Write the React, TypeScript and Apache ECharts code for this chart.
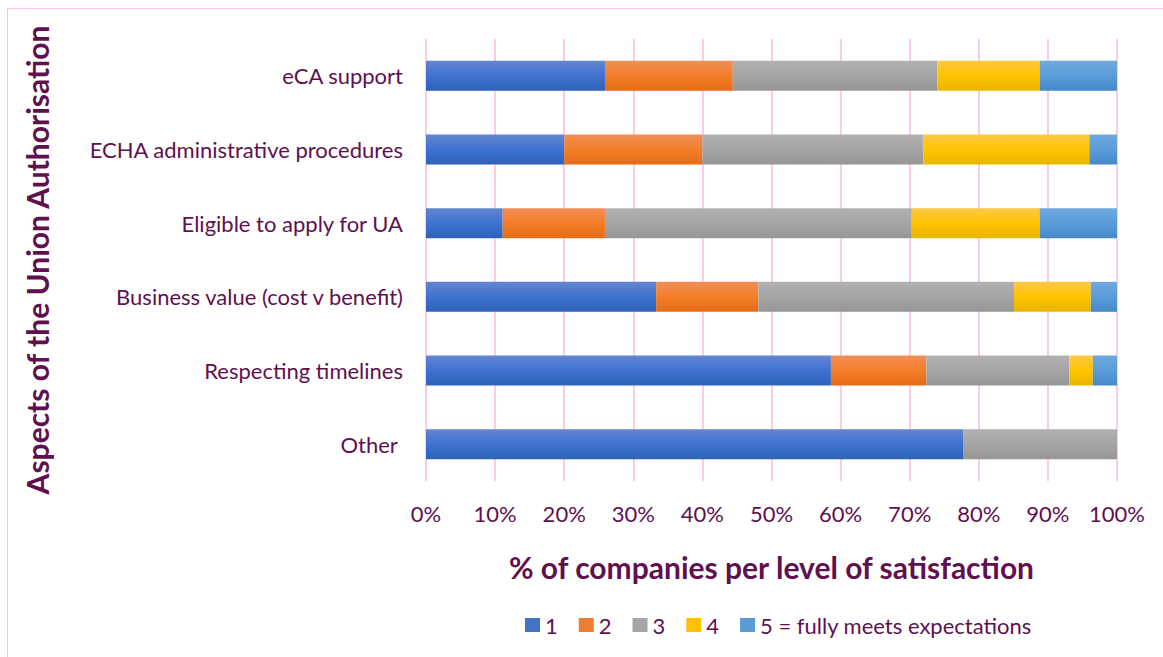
import React, { useEffect, useRef } from "react";
import * as echarts from "echarts";

const categories = [
  "eCA support",
  "ECHA administrative procedures",
  "Eligible to apply for UA",
  "Business value (cost v benefit)",
  "Respecting timelines",
  "Other ",
];
const seriesNames = ["1", "2", "3", "4", "5 = fully meets expectations"];
const level1 = [25.9, 20, 11.1, 33.3, 58.6, 77.8];
const level2 = [18.5, 20, 14.8, 14.8, 13.8, 0];
const level3 = [29.6, 32, 44.4, 37.0, 20.7, 22.2];
const level4 = [14.8, 24, 18.5, 11.1, 3.4, 0];
const level5 = [11.2, 4, 11.2, 3.8, 3.5, 0];
const xTicks = [0, 10, 20, 30, 40, 50, 60, 70, 80, 90, 100];

const TEXT = "#60104F";
const FONT = "Lato";

const grad = (a: string, b: string, c: string) =>
  new echarts.graphic.LinearGradient(0, 0, 0, 1, [
    { offset: 0, color: a },
    { offset: 0.5, color: b },
    { offset: 1, color: c },
  ]);

export default function App() {
  const ref = useRef<HTMLDivElement>(null);
  useEffect(() => {
    if (!ref.current) return;
    const chart = echarts.init(ref.current, undefined, { renderer: "svg" });
    const values = [level1, level2, level3, level4, level5];
    const colors = [
      grad("#6386CF", "#3F72D2", "#2E61B7"),
      grad("#F18E58", "#F47E28", "#E56B17"),
      grad("#B1B1B1", "#A5A5A5", "#969696"),
      grad("#FFC846", "#FFC400", "#E9B500"),
      grad("#6FA8DD", "#5B9CDA", "#4589CA"),
    ];
    const legendColors = ["#4472C4", "#ED7D31", "#A5A5A5", "#FFC000", "#5B9BD5"];
    chart.setOption({
      animation: false,
      textStyle: { fontFamily: FONT },
      graphic: [
        {
          type: "rect",
          shape: { x: 7.5, y: 8.5, width: 1200, height: 700 },
          style: { fill: "none", stroke: "#F7C6EA", lineWidth: 1 },
          silent: true,
        },
      ],
      legend: {
        bottom: 16,
        left: 520,
        icon: "rect",
        itemWidth: 15,
        itemHeight: 14,
        itemGap: 21,
        textStyle: { color: TEXT, fontSize: 22, fontFamily: FONT },
        data: seriesNames.map((n, i) => ({ name: n, itemStyle: { color: legendColors[i] } })),
      },
      grid: { left: 426, right: 46, top: 39, bottom: 176, containLabel: false },
      xAxis: {
        type: "value",
        min: 0,
        max: 100,
        interval: 10,
        axisLabel: {
          color: TEXT,
          fontSize: 22,
          margin: 21,
          formatter: (v: number) => (xTicks.includes(v) ? v + "%" : ""),
        },
        axisLine: { show: false },
        axisTick: { show: false },
        splitLine: { show: true, lineStyle: { color: "#F9CBEC", width: 2 } },
        name: "% of companies per level of satisfaction",
        nameLocation: "middle",
        nameGap: 71,
        nameTextStyle: { color: TEXT, fontSize: 30, fontWeight: "bold", fontFamily: FONT },
      },
      yAxis: {
        type: "category",
        inverse: true,
        data: categories,
        axisLabel: { color: TEXT, fontSize: 22, margin: 23 },
        axisLine: { show: false },
        axisTick: { show: false },
        name: "Aspects of the Union Authorisation",
        nameLocation: "middle",
        nameGap: 374,
        nameRotate: 90,
        nameTextStyle: { color: TEXT, fontSize: 30, fontWeight: "bold", fontFamily: FONT },
      },
      series: values.map((arr, i) => ({
        name: seriesNames[i],
        type: "bar",
        stack: "total",
        barWidth: 30,
        data: arr,
        itemStyle: { color: colors[i] },
      })),
    });
    return () => chart.dispose();
  }, []);
  return (
    <div
      ref={ref}
      style={{ position: "absolute", left: 0, top: 0, width: 1163, height: 657, background: "#fff" }}
    />
  );
}
